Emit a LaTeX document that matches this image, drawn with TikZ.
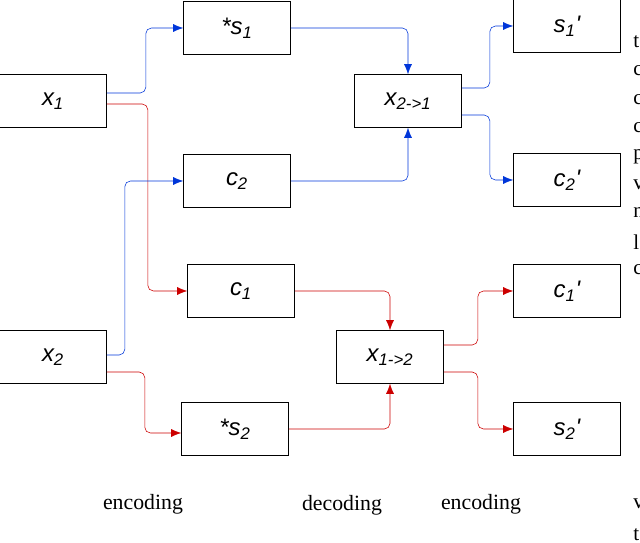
\documentclass[tikz,border=0pt]{standalone}
\usepackage{fontspec}
\setmainfont{Liberation Serif}
\newfontfamily\boxfont{Liberation Sans}
\usetikzlibrary{arrows.meta}
\begin{document}
\begin{tikzpicture}[x=0.025cm, y=-0.025cm,
		box/.style={draw, minimum width=2.675cm, minimum height=1.325cm, inner sep=0pt, font=\boxfont\itshape\fontsize{17}{17}\selectfont},
		blu/.style={draw=blue!75!cyan!85!black, rounded corners=4pt, -{Latex[length=2.5mm,width=2mm]}},
		rd/.style={draw=red!80!black, rounded corners=4pt, -{Latex[length=2.5mm,width=2mm]}},
		cut/.style={anchor=west, font=\fontsize{15}{15}\selectfont, inner sep=0pt}]
		\useasboundingbox (0,0) rectangle (640,543);
		% inputs
		\node[box] (x1) at (53,101) {x\textsubscript{1}};
		\node[box] (x2) at (53,357) {x\textsubscript{2}};
		% encoding
		\node[box] (s1) at (237,28) {*s\textsubscript{1}};
		\node[box] (c2) at (237,181) {c\textsubscript{2}};
		\node[box] (c1) at (241,291) {c\textsubscript{1}};
		\node[box] (s2) at (235,429) {*s\textsubscript{2}};
		% decoding
		\node[box] (x21) at (408,101) {x\textsubscript{2->1}};
		\node[box] (x12) at (390,357) {x\textsubscript{1->2}};
		% encoding again
		\node[box] (s1p) at (567,26) {s\textsubscript{1}'};
		\node[box] (c2p) at (567,180) {c\textsubscript{2}'};
		\node[box] (c1p) at (567,291) {c\textsubscript{1}'};
		\node[box] (s2p) at (567,429) {s\textsubscript{2}'};

		\draw[blu] ([yshift=0.2cm]x1.east) -- ++(39,0) |- (s1.west);
		\draw[rd] ([yshift=-0.075cm]x1.east) -- ++(41,0) |- (c1.west);
		\draw[blu] ([yshift=0.05cm]x2.east) -- ++(18,0) |- (c2.west);
		\draw[rd] ([yshift=-0.375cm]x2.east) -- ++(38,0) |- ([yshift=-0.1cm]s2.west);
		\draw[blu] (s1.east) -| (x21.north);
		\draw[blu] (c2.east) -| (x21.south);
		\draw[rd] (c1.east) -| (x12.north);
		\draw[rd] (s2.east) -| (x12.south);
		\draw[blu] ([yshift=0.325cm]x21.east) -- ++(28,0) |- (s1p.west);
		\draw[blu] ([yshift=-0.35cm]x21.east) -- ++(28,0) |- (c2p.west);
		\draw[rd] ([yshift=0.3cm]x12.east) -- ++(34,0) |- (c1p.west);
		\draw[rd] ([yshift=-0.375cm]x12.east) -- ++(34,0) |- (s2p.west);

		\node[font=\fontsize{15.5}{15.5}\selectfont] (enc1) at (143,504) {encoding};
		\node[font=\fontsize{15.5}{15.5}\selectfont] (dec) at (342,505) {decoding};
		\node[font=\fontsize{15.5}{15.5}\selectfont] (enc2) at (481,504) {encoding};

		% cut-off text at the right edge
		\foreach \ch/\yy in {t/42, c/71, c/100, c/128, p/157, v/185, n/213, l/242, c/270, v/504, t/535}
			\node[cut] at (633,\yy) {\ch};
	\end{tikzpicture}
\end{document}
